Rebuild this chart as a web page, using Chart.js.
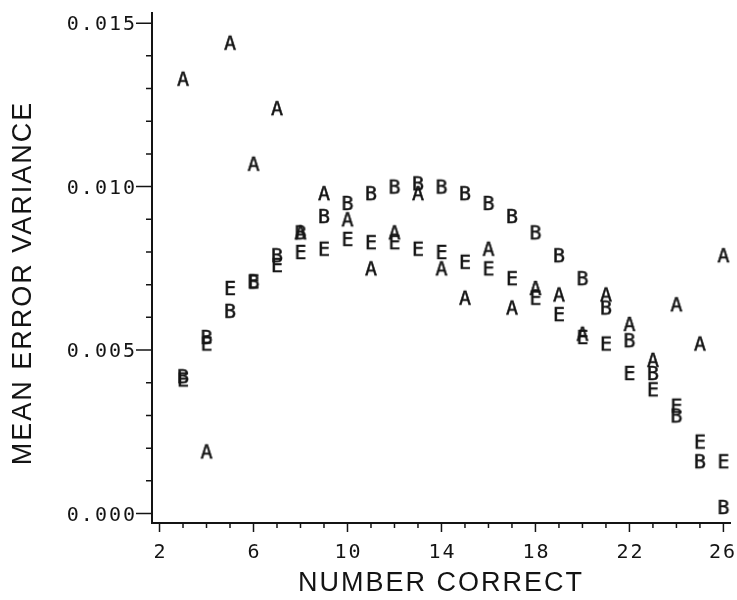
<!DOCTYPE html>
<html>
<head>
<meta charset="utf-8">
<script src="https://cdn.jsdelivr.net/npm/chart.js@4/dist/chart.umd.min.js"></script>
<style>
  html, body { margin: 0; padding: 0; background: #fff; }
  #wrap { width: 737px; height: 600px; }
</style>
</head>
<body>
<div id="wrap"><canvas id="errChart" width="737" height="600"></canvas></div>
<script>
/* ===== DATA ===== */
const numberCorrect = [3, 4, 5, 6, 7, 8, 9, 10, 11, 12, 13, 14, 15, 16, 17, 18, 19, 20, 21, 22, 23, 24, 25, 26];
const seriesA = [0.0133, 0.0019, 0.0144, 0.0107, 0.0124, 0.0086, 0.0098, 0.0090, 0.0075, 0.0086, 0.0098, 0.0075,
                 0.0066, 0.0081, 0.0063, 0.0069, 0.0067, 0.0055, 0.0067, 0.0058, 0.0047, 0.0064, 0.0052, 0.0079];
const seriesB = [0.0042, 0.0054, 0.0062, 0.0071, 0.0079, 0.0086, 0.0091, 0.0095, 0.0098, 0.0100, 0.0101, 0.0100,
                 0.0098, 0.0095, 0.0091, 0.0086, 0.0079, 0.0072, 0.0063, 0.0053, 0.0043, 0.0030, 0.0016, 0.0002];
const seriesE = [0.0041, 0.0052, 0.0069, 0.0071, 0.0076, 0.0080, 0.0081, 0.0084, 0.0083, 0.0083, 0.0081, 0.0080,
                 0.0077, 0.0075, 0.0072, 0.0066, 0.0061, 0.0054, 0.0052, 0.0043, 0.0038, 0.0033, 0.0022, 0.0016];
const xTickLabels = [2, 6, 10, 14, 18, 22, 26];
const yTickLabels = [0.000, 0.005, 0.010, 0.015];

const INK = '#141414';
const TICK_FONT = '20px "DejaVu Sans Mono"';
const TITLE_FONT = '27px "Liberation Sans"';

/* ===== LETTER MARKERS ===== */
function letterMarker(ch) {
    const c = document.createElement('canvas');
    c.width = 16;
    c.height = 20;
    const g = c.getContext('2d');
    g.fillStyle = INK;
    g.strokeStyle = INK;
    g.lineWidth = 0.5;
    g.font = '20px "DejaVu Sans Mono"';
    g.textAlign = 'center';
    g.textBaseline = 'alphabetic';
    g.fillText(ch, 8, 10 + 7.3);
    g.strokeText(ch, 8, 10 + 7.3);
    return c;
}

function toPoints(values) {
    return numberCorrect.map((x, i) => ({ x: x, y: values[i] }));
}

/* ===== PLOTTER LOOK: spaced lettering, tick marks, axis text ===== */
const plotterAxes = {
    id: 'plotterAxes',
    beforeUpdate(chart) { chart.ctx.letterSpacing = '2px'; },
    beforeDraw(chart) { chart.ctx.letterSpacing = '2px'; },
    afterDraw(chart) {
        const ctx = chart.ctx;
        const xs = chart.scales.x;
        const ys = chart.scales.y;
        ctx.save();
        ctx.letterSpacing = '2px';

        // minor + major tick marks
        ctx.strokeStyle = INK;
        ctx.lineWidth = 1.5;
        ctx.beginPath();
        for (let v = 2; v <= 26; v++) {
            const px = xs.getPixelForValue(v);
            const len = xTickLabels.includes(v) ? 9 : 5;
            ctx.moveTo(px, xs.top);
            ctx.lineTo(px, xs.top + len);
        }
        for (let k = 0; k <= 15; k++) {
            const py = ys.getPixelForValue(k / 1000);
            const len = k % 5 === 0 ? 16 : 6;
            ctx.moveTo(ys.right, py);
            ctx.lineTo(ys.right - len, py);
        }
        ctx.stroke();

        // x tick labels (last one pulled inside the canvas)
        ctx.fillStyle = INK;
        ctx.font = TICK_FONT;
        ctx.textAlign = 'center';
        ctx.textBaseline = 'middle';
        xTickLabels.forEach(v => {
            const txt = String(v);
            const w = ctx.measureText(txt).width;
            let px = xs.getPixelForValue(v);
            if (px + w / 2 > chart.width - 1) px = chart.width - 1 - w / 2;
            ctx.fillText(txt, px + 1, xs.top + 30);
        });

        // y axis title
        ctx.font = TITLE_FONT;
        ctx.translate(24, 283);
        ctx.rotate(-Math.PI / 2);
        ctx.fillText('MEAN ERROR VARIANCE', 0, 0);
        ctx.restore();
    }
};

/* ===== CHART ===== */
document.addEventListener('DOMContentLoaded', function() {
    const markers = { A: letterMarker('A'), B: letterMarker('B'), E: letterMarker('E') };

    const makeSet = (label, values) => ({
        label: label,
        data: toPoints(values),
        pointStyle: markers[label],
        pointRadius: 6,
        clip: false,
        showLine: false
    });

    new Chart(document.getElementById('errChart').getContext('2d'), {
        type: 'scatter',
        data: {
            datasets: [
                makeSet('E', seriesE),
                makeSet('B', seriesB),
                makeSet('A', seriesA)
            ]
        },
        options: {
            responsive: false,
            animation: false,
            layout: { padding: { top: 13, right: 0, left: 0, bottom: 0 } },
            plugins: {
                legend: { display: false },
                tooltip: { enabled: false }
            },
            scales: {
                x: {
                    type: 'linear',
                    min: 1.68,
                    max: 26.28,
                    afterBuildTicks: s => { s.ticks = xTickLabels.map(v => ({ value: v })); },
                    afterFit: s => { s.height = 77; s.paddingLeft = 0; s.paddingRight = 0; },
                    grid: { display: false, drawTicks: false },
                    border: { display: true, color: INK, width: 2 },
                    ticks: { display: false },
                    title: {
                        display: true,
                        text: 'NUMBER CORRECT',
                        color: INK,
                        padding: { top: 4, bottom: 0 },
                        font: { family: '"Liberation Sans"', size: 27 }
                    }
                },
                y: {
                    type: 'linear',
                    min: -0.00029,
                    max: 0.01531,
                    afterBuildTicks: s => { s.ticks = yTickLabels.map(v => ({ value: v })); },
                    afterFit: s => { s.width = 152; s.paddingTop = 0; s.paddingBottom = 0; },
                    grid: { display: false, drawTicks: false },
                    border: { display: true, color: INK, width: 2 },
                    ticks: {
                        color: INK,
                        padding: 15,
                        labelOffset: 2,
                        font: { family: '"DejaVu Sans Mono"', size: 20 },
                        callback: v => v.toFixed(3)
                    },
                    title: { display: false }
                }
            }
        },
        plugins: [plotterAxes]
    });
});
</script>
</body>
</html>
